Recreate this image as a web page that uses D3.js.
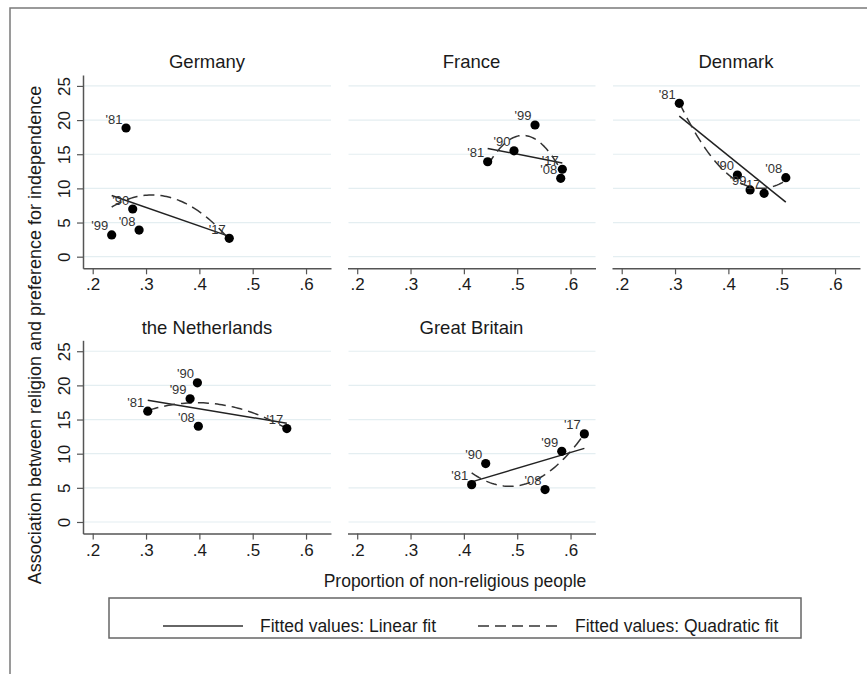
<!DOCTYPE html>
<html>
<head>
<meta charset="utf-8">
<script src="https://cdn.jsdelivr.net/npm/d3@7"></script>
<style>
  body { margin: 0; background: #fff; }
  text { font-family: "Liberation Sans", Arial, Helvetica, sans-serif; }
</style>
</head>
<body>
<div id="chart"></div>
<script>
// Panels in the order they are drawn (3 per row)
const countries = ["Germany", "France", "Denmark", "the Netherlands", "Great Britain"];
const waves = ["'81", "'90", "'99", "'08", "'17"];

// Proportion of non-religious people, one row per country, order follows waves
const nonReligious = [
  [0.2625, 0.275, 0.2356, 0.287, 0.456],
  [0.4446, 0.494, 0.5334, 0.5816, 0.5846],
  [0.308, 0.4169, 0.4407, 0.5077, 0.467],
  [0.3032, 0.3963, 0.3826, 0.3981, 0.564],
  [0.4146, 0.4409, 0.5835, 0.5522, 0.6259]
];

// Association between religion and preference for independence
const association = [
  [18.84, 6.98, 3.18, 3.9, 2.69],
  [13.9, 15.5, 19.28, 11.47, 12.8],
  [22.46, 11.96, 9.77, 11.57, 9.28],
  [16.22, 20.38, 18.03, 14.02, 13.68],
  [5.47, 8.55, 10.35, 4.74, 12.9]
];

const xTicks = [0.2, 0.3, 0.4, 0.5, 0.6];
const yTicks = [0, 5, 10, 15, 20, 25];

const width = 867, height = 674;
const colLeft = [83, 347.5, 612];
const rowAxisY = [268.3, 533.6];
const panelW = 248, panelH = 193.3;
const ink = "#1a1a1a";

// least squares fits, same as Stata lfit / qfit
function linearFit(xs, ys) {
  const mx = d3.mean(xs), my = d3.mean(ys);
  const sxy = d3.sum(xs, (x, i) => (x - mx) * (ys[i] - my));
  const sxx = d3.sum(xs, x => (x - mx) * (x - mx));
  const b = sxy / sxx;
  return x => my + b * (x - mx);
}

function quadraticFit(xs, ys) {
  // normal equations for y = a + b x + c x^2
  const s = k => d3.sum(xs, x => Math.pow(x, k));
  const t = k => d3.sum(xs, (x, i) => Math.pow(x, k) * ys[i]);
  const m = [
    [s(0), s(1), s(2), t(0)],
    [s(1), s(2), s(3), t(1)],
    [s(2), s(3), s(4), t(2)]
  ];
  for (let c = 0; c < 3; c++) {
    for (let r = c + 1; r < 3; r++) {
      const f = m[r][c] / m[c][c];
      for (let k = c; k < 4; k++) m[r][k] -= f * m[c][k];
    }
  }
  const coef = [0, 0, 0];
  for (let r = 2; r >= 0; r--) {
    let v = m[r][3];
    for (let k = r + 1; k < 3; k++) v -= m[r][k] * coef[k];
    coef[r] = v / m[r][r];
  }
  return x => coef[0] + coef[1] * x + coef[2] * x * x;
}

const svg = d3.select("#chart").append("svg")
  .attr("width", width)
  .attr("height", height);

// outer frame (top and left edges visible)
svg.append("path")
  .attr("d", `M10,${height} L10,8 L${width},8`)
  .attr("fill", "none")
  .attr("stroke", "#7a7a7a")
  .attr("stroke-width", 1.5);

const fmtX = d => d3.format(".1f")(d).replace(/^0/, "");

countries.forEach((name, i) => {
  const col = i % 3, row = Math.floor(i / 3);
  const left = colLeft[col];
  const axisY = rowAxisY[row];

  const x = d3.scaleLinear().domain([0.1818, 0.6468]).range([left, left + panelW]);
  const y = d3.scaleLinear().domain([-1.7, 26.6]).range([axisY, axisY - panelH]);

  const g = svg.append("g");

  // gridlines
  g.selectAll(".grid")
    .data(yTicks)
    .join("line")
    .attr("x1", left + 1).attr("x2", left + panelW)
    .attr("y1", d => y(d)).attr("y2", d => y(d))
    .attr("stroke", "#e4eef1")
    .attr("stroke-width", 1.2);

  // panel title
  g.append("text")
    .attr("x", left + panelW / 2)
    .attr("y", axisY - 200)
    .attr("text-anchor", "middle")
    .attr("font-size", 18.5)
    .attr("fill", ink)
    .text(name);

  // x axis
  const xa = g.append("g")
    .attr("transform", `translate(0,${axisY})`)
    .call(d3.axisBottom(x).tickValues(xTicks).tickFormat(fmtX)
      .tickSize(6).tickSizeOuter(0).tickPadding(4));
  xa.select(".domain").attr("stroke", "#555").attr("stroke-width", 1.5);
  xa.selectAll(".tick line").attr("stroke", "#555").attr("stroke-width", 1.2);
  xa.selectAll(".tick text").attr("font-size", 17).attr("fill", ink)
    .attr("font-family", "Liberation Sans, Arial, sans-serif");

  // y axis only on first column
  if (col === 0) {
    const ya = g.append("g")
      .attr("transform", `translate(${left},0)`)
      .call(d3.axisLeft(y).tickValues(yTicks).tickSize(6).tickSizeOuter(0));
    ya.select(".domain").attr("stroke", "#555").attr("stroke-width", 1.5);
    ya.selectAll(".tick line").attr("stroke", "#555").attr("stroke-width", 1.2);
    ya.selectAll(".tick text")
      .attr("font-size", 17).attr("fill", ink)
      .attr("font-family", "Liberation Sans, Arial, sans-serif")
      .attr("x", 0).attr("y", -13).attr("dy", null)
      .attr("text-anchor", "middle")
      .attr("transform", "rotate(-90)");
  }

  const xs = nonReligious[i], ys = association[i];
  const pts = xs.map((v, k) => ({ x: v, y: ys[k], wave: waves[k] }));
  const [xmin, xmax] = d3.extent(xs);
  const grid = d3.range(0, 61).map(k => xmin + (xmax - xmin) * k / 60);

  const lin = linearFit(xs, ys);
  const quad = quadraticFit(xs, ys);
  const line = d3.line().x(d => x(d[0])).y(d => y(d[1]));

  g.append("path")
    .attr("d", line([[xmin, lin(xmin)], [xmax, lin(xmax)]]))
    .attr("fill", "none")
    .attr("stroke", "#222")
    .attr("stroke-width", 1.5);

  g.append("path")
    .attr("d", line(grid.map(v => [v, quad(v)])))
    .attr("fill", "none")
    .attr("stroke", "#333")
    .attr("stroke-width", 1.5)
    .attr("stroke-dasharray", "11,6");

  // markers and wave labels
  g.selectAll(".dot")
    .data(pts)
    .join("circle")
    .attr("cx", d => x(d.x))
    .attr("cy", d => y(d.y))
    .attr("r", 4.6)
    .attr("fill", "#000");

  g.selectAll(".lab")
    .data(pts)
    .join("text")
    .attr("x", d => x(d.x) - 3.5)
    .attr("y", d => y(d.y) - 4.5)
    .attr("text-anchor", "end")
    .attr("font-size", 13)
    .attr("fill", "#333")
    .text(d => d.wave);
});

// axis titles
svg.append("text")
  .attr("transform", "translate(41,335) rotate(-90)")
  .attr("text-anchor", "middle")
  .attr("font-size", 18)
  .attr("fill", ink)
  .text("Association between religion and preference for independence");

svg.append("text")
  .attr("x", 455)
  .attr("y", 587)
  .attr("text-anchor", "middle")
  .attr("font-size", 17.5)
  .attr("fill", ink)
  .text("Proportion of non-religious people");

// legend
const legend = svg.append("g");
legend.append("rect")
  .attr("x", 109).attr("y", 598)
  .attr("width", 692).attr("height", 40)
  .attr("fill", "#fff")
  .attr("stroke", "#666")
  .attr("stroke-width", 1.5);

const legendItems = [
  { label: "Fitted values: Linear fit", dash: null, x0: 163, x1: 243, tx: 260 },
  { label: "Fitted values: Quadratic fit", dash: "11,6", x0: 478, x1: 558, tx: 575 }
];

legendItems.forEach(d => {
  legend.append("line")
    .attr("x1", d.x0).attr("x2", d.x1)
    .attr("y1", 626).attr("y2", 626)
    .attr("stroke", "#333")
    .attr("stroke-width", 1.5)
    .attr("stroke-dasharray", d.dash);
  legend.append("text")
    .attr("x", d.tx).attr("y", 632)
    .attr("font-size", 17.5)
    .attr("fill", ink)
    .text(d.label);
});
</script>
</body>
</html>
